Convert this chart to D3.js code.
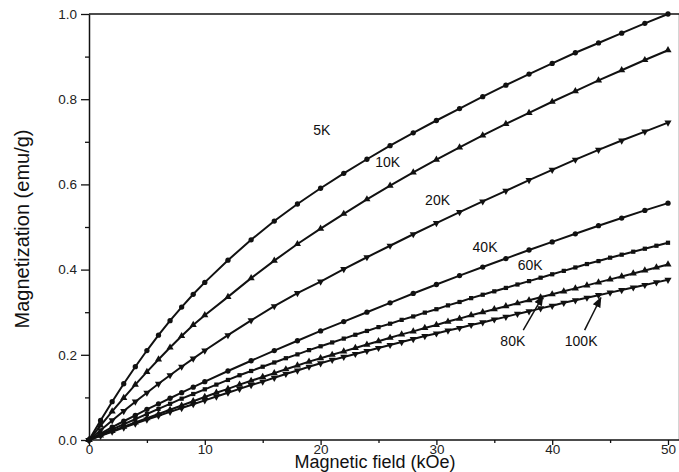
<!DOCTYPE html>
<html lang="en">
<head>
    <meta charset="UTF-8">
    <title>Magnetization vs field</title>
    <script src="https://d3js.org/d3.v7.min.js"></script>
    <style>
        body {
            margin: 0;
            padding: 0;
            background: #fff;
        }
        svg text {
            font-family: Arial, "Liberation Sans", sans-serif;
            fill: #111;
        }
    </style>
</head>
<body>
    <svg width="679" height="472"></svg>

    <script>
        // field values (kOe)
        const fieldCoarse = [0, 1, 2, 3, 4, 5, 6, 7, 8, 9, 10, 12, 14, 16, 18, 20, 22, 24, 26, 28,
            30, 32, 34, 36, 38, 40, 42, 44, 46, 48, 50];
        const fieldFine = [0, 1, 2, 3, 4, 5, 6, 7, 8, 9, 10, 11, 12, 13, 14, 15, 16, 17, 18, 19, 20,
            21, 22, 23, 24, 25, 26, 27, 28, 29, 30, 31, 32, 33, 34, 35, 36, 37, 38, 39, 40,
            41, 42, 43, 44, 45, 46, 47, 48, 49, 50];

        // magnetization (emu/g)
        const m5K = [0, 0.046, 0.09, 0.132, 0.172, 0.21, 0.246, 0.28, 0.312, 0.342, 0.37, 0.422, 0.47,
            0.514, 0.554, 0.591, 0.626, 0.659, 0.691, 0.721, 0.75, 0.778, 0.806, 0.833, 0.859,
            0.884, 0.909, 0.932, 0.955, 0.978, 1.0];
        const m10K = [0, 0.034, 0.067, 0.099, 0.13, 0.16, 0.189, 0.217, 0.244, 0.27, 0.293, 0.336, 0.38,
            0.421, 0.46, 0.496, 0.531, 0.565, 0.597, 0.628, 0.658, 0.687, 0.715, 0.742, 0.768,
            0.794, 0.819, 0.844, 0.868, 0.892, 0.915];
        const m20K = [0, 0.023, 0.046, 0.068, 0.09, 0.111, 0.132, 0.152, 0.172, 0.191, 0.21, 0.246, 0.281,
            0.314, 0.345, 0.372, 0.401, 0.429, 0.456, 0.483, 0.509, 0.535, 0.56, 0.585, 0.61,
            0.634, 0.658, 0.681, 0.703, 0.724, 0.745];
        const m40K = [0, 0.015, 0.03, 0.044, 0.058, 0.072, 0.085, 0.098, 0.111, 0.124, 0.137, 0.162, 0.186,
            0.21, 0.233, 0.256, 0.278, 0.3, 0.322, 0.344, 0.365, 0.386, 0.406, 0.426, 0.446,
            0.465, 0.484, 0.503, 0.521, 0.539, 0.556];
        const m60K = [0, 0.0125, 0.025, 0.037, 0.049, 0.061, 0.073, 0.085, 0.097, 0.108, 0.119, 0.13, 0.141,
            0.152, 0.162, 0.172, 0.182, 0.192, 0.201, 0.211, 0.22, 0.229, 0.238, 0.247, 0.256,
            0.265, 0.273, 0.282, 0.29, 0.299, 0.307, 0.316, 0.324, 0.333, 0.341, 0.349, 0.357,
            0.365, 0.373, 0.381, 0.389, 0.397, 0.405, 0.413, 0.42, 0.428, 0.435, 0.442, 0.449,
            0.456, 0.463];
        const m80K = [0, 0.0105, 0.021, 0.031, 0.041, 0.051, 0.061, 0.071, 0.081, 0.091, 0.101, 0.111, 0.12,
            0.13, 0.139, 0.148, 0.157, 0.166, 0.175, 0.184, 0.192, 0.2, 0.208, 0.216, 0.224,
            0.232, 0.24, 0.248, 0.255, 0.263, 0.27, 0.278, 0.285, 0.293, 0.3, 0.307, 0.314,
            0.321, 0.328, 0.335, 0.342, 0.349, 0.356, 0.363, 0.37, 0.377, 0.384, 0.391, 0.398,
            0.405, 0.412];
        const m100K = [0, 0.0098, 0.0195, 0.029, 0.0385, 0.048, 0.057, 0.066, 0.075, 0.084, 0.093, 0.102,
            0.111, 0.12, 0.129, 0.137, 0.146, 0.155, 0.163, 0.172, 0.18, 0.188, 0.195, 0.202,
            0.209, 0.216, 0.223, 0.23, 0.237, 0.244, 0.25, 0.257, 0.263, 0.27, 0.276, 0.283,
            0.289, 0.296, 0.302, 0.309, 0.315, 0.322, 0.328, 0.334, 0.34, 0.346, 0.352, 0.358,
            0.364, 0.37, 0.376];

        const xTicks = [0, 10, 20, 30, 40, 50];
        const xMinor = [5, 15, 25, 35, 45];
        const yTicks = [0, 0.2, 0.4, 0.6, 0.8, 1.0];
        const yMinor = [0.1, 0.3, 0.5, 0.7, 0.9];

        const series = [
            { name: "5K", field: fieldCoarse, m: m5K, symbol: d3.symbolCircle },
            { name: "10K", field: fieldCoarse, m: m10K, symbol: d3.symbolTriangle },
            { name: "20K", field: fieldCoarse, m: m20K, symbol: "down" },
            { name: "40K", field: fieldCoarse, m: m40K, symbol: d3.symbolCircle },
            { name: "60K", field: fieldFine, m: m60K, symbol: d3.symbolSquare },
            { name: "80K", field: fieldFine, m: m80K, symbol: d3.symbolTriangle },
            { name: "100K", field: fieldFine, m: m100K, symbol: "down" }
        ];

        // curve labels, placed in data units
        const labels = [
            { text: "5K", h: 20.1, m: 0.728 },
            { text: "10K", h: 25.8, m: 0.653 },
            { text: "20K", h: 30.1, m: 0.563 },
            { text: "40K", h: 34.2, m: 0.453 },
            { text: "60K", h: 38.1, m: 0.411 },
            { text: "80K", h: 36.6, m: 0.232 },
            { text: "100K", h: 42.5, m: 0.232 }
        ];
        const arrows = [
            { h0: 37.5, m0: 0.258, h1: 39.2, m1: 0.338 },
            { h0: 42.8, m0: 0.258, h1: 44.2, m1: 0.334 }
        ];

        const svg = d3.select("svg");
        const plotLeft = 89, plotTop = 14, plotBottom = 440;

        const x = d3.scaleLinear().domain([0, 50]).range([plotLeft, 668]);
        const y = d3.scaleLinear().domain([0, 1]).range([plotBottom, plotTop]);

        // frame
        svg.append("line")
            .attr("x1", plotLeft).attr("x2", x(51)).attr("y1", plotTop).attr("y2", plotTop)
            .attr("stroke", "#111").attr("stroke-width", 1.5);
        svg.append("line")
            .attr("x1", x(51)).attr("x2", x(51)).attr("y1", plotTop).attr("y2", plotBottom)
            .attr("stroke", "#111").attr("stroke-width", 1.5);

        // axes
        const xAxis = svg.append("g")
            .attr("transform", `translate(0,${plotBottom})`)
            .call(d3.axisBottom(x).tickValues(xTicks).tickSize(5).tickSizeOuter(0).tickPadding(-1)
                .tickFormat(d3.format("d")));
        const xAxisMinor = svg.append("g")
            .attr("transform", `translate(0,${plotBottom})`)
            .call(d3.axisBottom(x).tickValues(xMinor).tickSize(3).tickFormat(""));
        xAxisMinor.select(".domain").remove();
        xAxis.select(".domain").attr("d", `M${plotLeft},0H${x(51)}`);

        const yAxis = svg.append("g")
            .attr("transform", `translate(${plotLeft},0)`)
            .call(d3.axisLeft(y).tickValues(yTicks).tickSize(8).tickSizeOuter(0).tickPadding(4)
                .tickFormat(d3.format(".1f")));
        const yAxisMinor = svg.append("g")
            .attr("transform", `translate(${plotLeft},0)`)
            .call(d3.axisLeft(y).tickValues(yMinor).tickSize(4).tickFormat(""));
        yAxisMinor.select(".domain").remove();

        svg.selectAll(".domain").attr("stroke", "#111").attr("stroke-width", 1.5);
        svg.selectAll(".tick line").attr("stroke", "#111").attr("stroke-width", 1.3);
        svg.selectAll(".tick text").style("font-size", "13.5px").style("fill", "#222")
            .style("font-family", "Arial, 'Liberation Sans', sans-serif");

        // axis titles
        svg.append("text")
            .attr("x", 375).attr("y", 468)
            .attr("text-anchor", "middle")
            .style("font-size", "18px")
            .text("Magnetic field (kOe)");
        svg.append("text")
            .attr("transform", `translate(29,${(plotTop + plotBottom) / 2 + 2}) rotate(-90)`)
            .attr("text-anchor", "middle")
            .style("font-size", "20px")
            .text("Magnetization (emu/g)");

        // curves
        const line = d3.line().x(d => x(d[0])).y(d => y(d[1]));
        const downTri = d3.symbol().type(d3.symbolTriangle).size(22);

        series.forEach(s => {
            const pts = s.field.map((h, i) => [h, s.m[i]]);
            svg.append("path")
                .datum(pts)
                .attr("d", line)
                .attr("fill", "none")
                .attr("stroke", "#111")
                .attr("stroke-width", 2);

            const sym = s.symbol === "down"
                ? downTri
                : d3.symbol().type(s.symbol).size(s.symbol === d3.symbolSquare ? 18 : 22);
            svg.append("g")
                .selectAll("path")
                .data(pts)
                .enter()
                .append("path")
                .attr("d", sym)
                .attr("transform", d => `translate(${x(d[0])},${y(d[1])})` +
                    (s.symbol === "down" ? " rotate(180)" : ""))
                .attr("fill", "#111");
        });

        // labels and arrows
        svg.append("defs").append("marker")
            .attr("id", "head")
            .attr("viewBox", "0 0 10 10")
            .attr("refX", 9).attr("refY", 5)
            .attr("markerWidth", 7).attr("markerHeight", 7)
            .attr("orient", "auto")
            .append("path")
            .attr("d", "M0,1L10,5L0,9Z")
            .attr("fill", "#111");

        svg.selectAll(".curve-label")
            .data(labels)
            .enter()
            .append("text")
            .attr("class", "curve-label")
            .attr("x", d => x(d.h))
            .attr("y", d => y(d.m))
            .attr("text-anchor", "middle")
            .attr("dominant-baseline", "central")
            .style("font-size", "14px")
            .text(d => d.text);

        svg.selectAll(".arrow")
            .data(arrows)
            .enter()
            .append("line")
            .attr("class", "arrow")
            .attr("x1", d => x(d.h0)).attr("y1", d => y(d.m0))
            .attr("x2", d => x(d.h1)).attr("y2", d => y(d.m1))
            .attr("stroke", "#111")
            .attr("stroke-width", 1.5)
            .attr("marker-end", "url(#head)");
    </script>
</body>
</html>
